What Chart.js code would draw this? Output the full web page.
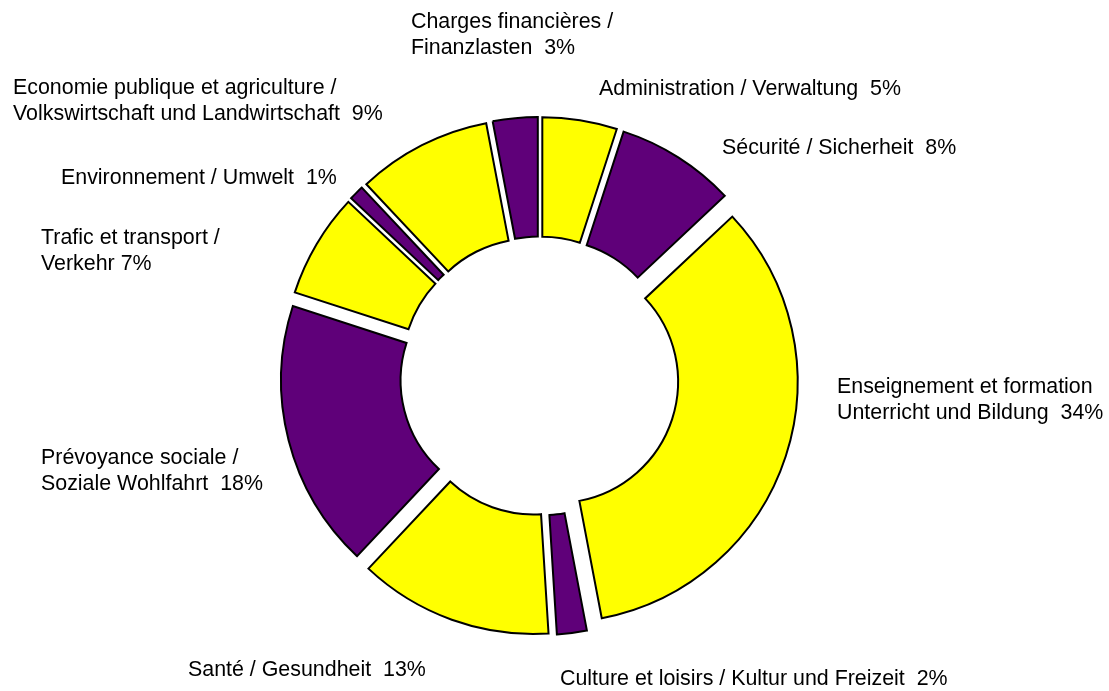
<!DOCTYPE html>
<html>
<head>
<meta charset="utf-8">
<script src="https://cdn.jsdelivr.net/npm/chart.js@4/dist/chart.umd.min.js"></script>
<style>
  html, body { margin: 0; padding: 0; background: #fff; }
</style>
</head>
<body>
<canvas id="donut" width="1109" height="691"></canvas>
<script>
// label lines per slice, clockwise from 12 o'clock (last line gets the percentage)
const categories = [
    ['Administration / Verwaltung  '],
    ['Sécurité / Sicherheit  '],
    ['Enseignement et formation', 'Unterricht und Bildung  '],
    ['Culture et loisirs / Kultur und Freizeit  '],
    ['Santé / Gesundheit  '],
    ['Prévoyance sociale /', 'Soziale Wohlfahrt  '],
    ['Trafic et transport /', 'Verkehr '],
    ['Environnement / Umwelt  '],
    ['Economie publique et agriculture /', 'Volkswirtschaft und Landwirtschaft  '],
    ['Charges financières /', 'Finanzlasten  ']
];
const shares = [5, 8, 34, 2, 13, 18, 7, 1, 9, 3];

const yellow = '#FFFF00';
const purple = '#5F0079';
const sliceColors = [yellow, purple, yellow, purple, yellow, purple, yellow, purple, yellow, purple];

// where each label's first baseline sits, relative to the doughnut centre
const labelOffsets = [
    [59.5, -281], [182.5, -222], [297.5, 17], [20.5, 309], [-351.5, 300],
    [-498.5, 88], [-498.5, -132], [-478.5, -192], [-526.5, -282], [-128.5, -348.5]
];
const EXPLODE = 18;
const LINE_H = 26;

// pull every slice outward along its mid angle
const explodePlugin = {
    id: 'explode',
    beforeDatasetDraw(chart, args) {
        const ctx = chart.ctx;
        args.meta.data.forEach(arc => {
            const mid = (arc.startAngle + arc.endAngle) / 2;
            ctx.save();
            ctx.translate(Math.cos(mid) * EXPLODE, Math.sin(mid) * EXPLODE);
            arc.draw(ctx);
            ctx.restore();
        });
        return false;
    }
};

const labelPlugin = {
    id: 'sliceLabels',
    afterDraw(chart) {
        const ctx = chart.ctx;
        const arcs = chart.getDatasetMeta(0).data;
        ctx.save();
        ctx.font = '21.4px "Liberation Sans", Arial, sans-serif';
        ctx.fillStyle = '#000';
        ctx.textAlign = 'left';
        ctx.textBaseline = 'alphabetic';
        arcs.forEach((arc, i) => {
            const lines = categories[i].slice();
            lines[lines.length - 1] += shares[i] + '%';
            const x = arc.x + labelOffsets[i][0];
            const y = arc.y + labelOffsets[i][1];
            lines.forEach((t, k) => ctx.fillText(t, x, y + k * LINE_H));
        });
        ctx.restore();
    }
};

const ctx = document.getElementById('donut').getContext('2d');

new Chart(ctx, {
    type: 'doughnut',
    data: {
        labels: categories.map(l => l.join(' ').trim()),
        datasets: [{
            data: shares,
            backgroundColor: sliceColors,
            borderColor: '#000',
            borderWidth: 2,
            borderJoinStyle: 'miter'
        }]
    },
    options: {
        responsive: false,
        animation: false,
        radius: 241,
        cutout: '50.4%',
        layout: {
            padding: { left: 0, right: 30, top: 61, bottom: 0 }
        },
        plugins: {
            legend: { display: false },
            tooltip: { enabled: false }
        }
    },
    plugins: [explodePlugin, labelPlugin]
});
</script>
</body>
</html>
